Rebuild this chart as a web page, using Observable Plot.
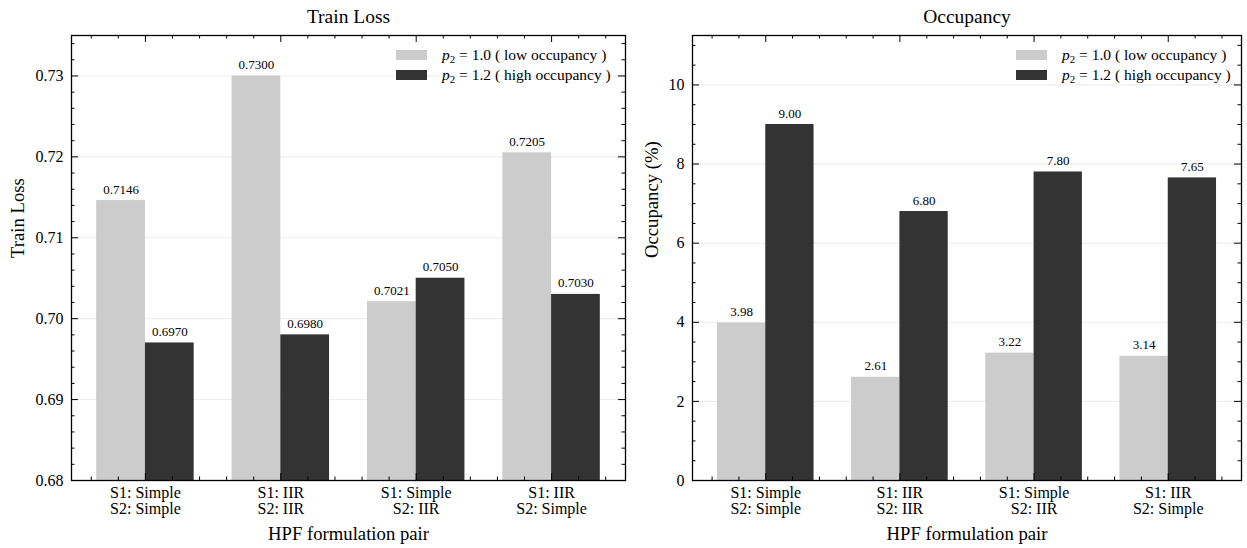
<!DOCTYPE html>
<html><head><meta charset="utf-8">
<script src="https://cdn.jsdelivr.net/npm/d3@7"></script>
<script src="https://cdn.jsdelivr.net/npm/@observablehq/plot@0.6"></script>
<style>
body{margin:0;background:#fff;}
#wrap{position:relative;width:1247px;height:548px;font-family:"Liberation Serif",serif;overflow:hidden;}
.panel{position:absolute;top:0;}
.legend{position:absolute;font-size:15.5px;color:#000;font-family:"Liberation Serif",serif;}
.legend .row{display:flex;align-items:center;height:20px;white-space:nowrap;}
.legend .sw{width:31px;height:10px;margin-right:15px;}
.legend sub{font-size:0.7em;vertical-align:-0.3em;line-height:0;}
</style></head><body><div id="wrap"></div>
<script>
// ---- data ----
const categories = ["S1: Simple\nS2: Simple", "S1: IIR\nS2: IIR", "S1: Simple\nS2: IIR", "S1: IIR\nS2: Simple"];
const seriesLabels = ["<i>p</i><sub>2</sub> = 1.0 ( low occupancy )", "<i>p</i><sub>2</sub> = 1.2 ( high occupancy )"];
const lossLow = [0.7146, 0.7300, 0.7021, 0.7205];
const lossHigh = [0.6970, 0.6980, 0.7050, 0.7030];
const occLow = [3.98, 2.61, 3.22, 3.14];
const occHigh = [9.00, 6.80, 7.80, 7.65];
const lossTicks = [0.68, 0.69, 0.70, 0.71, 0.72, 0.73];
const occTicks = [0, 2, 4, 6, 8, 10];
const xLabel = "HPF formulation pair";
const colors = ["#cccccc", "#333333"];

const wrap = document.getElementById("wrap");
const H_TOTAL = 548, MT = 35, MB = 68;
const BW = 0.36;
const xDomain = [-0.546, 3.546];
const xMinor = d3.range(-0.4, 3.5, 0.2).map(v => +v.toFixed(2)).filter(v => Math.abs(v - Math.round(v)) > 1e-6);
const xMajor = categories.map((c, i) => i);

function panel({low, high, yDomain, yMajor, yMinorStep, fmt, yFmt, title, ylabel, ylabelDx, width, ml, mr, left, legendLeft}) {
  const rows = [];
  categories.forEach((c, i) => {
    rows.push({i, s: 0, value: low[i], x1: i - BW, x2: i});
    rows.push({i, s: 1, value: high[i], x1: i, x2: i + BW});
  });
  const W = width - ml - mr;
  const H = H_TOTAL - MT - MB;
  const yMinor = d3.range(yDomain[0], yDomain[1] + 1e-9, yMinorStep).map(v => +v.toFixed(4))
    .filter(v => !yMajor.some(m => Math.abs(m - v) < 1e-6));
  const p = Plot.plot({
    width, height: H_TOTAL,
    marginLeft: ml, marginRight: mr, marginTop: MT, marginBottom: MB,
    style: {fontFamily: "Liberation Serif, serif", fontSize: "16px", background: "transparent", color: "#000", overflow: "visible"},
    x: {type: "linear", domain: xDomain},
    y: {domain: yDomain},
    marks: [
      Plot.gridY(yMajor, {stroke: "#000", strokeOpacity: 0.08, strokeWidth: 1}),
      Plot.rect(rows, {x1: "x1", x2: "x2", y1: yDomain[0], y2: "value", fill: d => colors[d.s]}),
      Plot.text(rows, {x: d => (d.x1 + d.x2) / 2, y: "value", text: d => fmt(d.value), dy: -7, lineAnchor: "bottom", fontSize: 13, fill: "#000"}),
      // inward ticks, all four sides
      Plot.tickX(xMinor, {x: d => d, insetTop: H - 3.5, stroke: "#000"}),
      Plot.tickX(xMinor, {x: d => d, insetBottom: H - 3.5, stroke: "#000"}),
      Plot.tickX(xMajor, {x: d => d, insetTop: H - 7, stroke: "#000"}),
      Plot.tickX(xMajor, {x: d => d, insetBottom: H - 7, stroke: "#000"}),
      Plot.tickY(yMinor, {y: d => d, insetRight: W - 3.5, stroke: "#000"}),
      Plot.tickY(yMinor, {y: d => d, insetLeft: W - 3.5, stroke: "#000"}),
      Plot.tickY(yMajor, {y: d => d, insetRight: W - 7, stroke: "#000"}),
      Plot.tickY(yMajor, {y: d => d, insetLeft: W - 7, stroke: "#000"}),
      Plot.axisX(xMajor, {tickSize: 0, tickPadding: 6, tickFormat: i => categories[i], label: null, fontSize: 16, fill: "#000"}),
      Plot.axisY(yMajor, {tickSize: 0, tickPadding: 8, tickFormat: yFmt, label: null, fontSize: 16, fill: "#000"}),
      Plot.frame({stroke: "#000", strokeWidth: 1.3}),
      Plot.text([title], {text: d => d, frameAnchor: "top", dy: -19, lineAnchor: "middle", fontSize: 19.5, fill: "#000"}),
      Plot.text([xLabel], {text: d => d, frameAnchor: "bottom", dy: 54, lineAnchor: "middle", fontSize: 18.7, fill: "#000"}),
      Plot.text([ylabel], {text: d => d, frameAnchor: "left", dx: ylabelDx, rotate: -90, lineAnchor: "middle", fontSize: 18.7, fill: "#000"})
    ]
  });
  const holder = document.createElement("div");
  holder.className = "panel";
  holder.style.left = left + "px";
  holder.appendChild(p);
  wrap.appendChild(holder);

  const lg = document.createElement("div");
  lg.className = "legend";
  lg.style.left = legendLeft + "px";
  lg.style.top = "45px";
  lg.innerHTML = seriesLabels.map((t, k) =>
    `<div class="row"><span class="sw" style="background:${colors[k]}"></span><span>${t}</span></div>`).join("");
  wrap.appendChild(lg);
}

panel({
  low: lossLow, high: lossHigh, yDomain: [0.68, 0.735], yMajor: lossTicks, yMinorStep: 0.002,
  fmt: d3.format(".4f"), yFmt: d3.format(".2f"), title: "Train Loss", ylabel: "Train Loss", ylabelDx: -53,
  width: 640, ml: 71, mr: 15, left: 0, legendLeft: 396
});
panel({
  low: occLow, high: occHigh, yDomain: [0, 11.25], yMajor: occTicks, yMinorStep: 0.5,
  fmt: d3.format(".2f"), yFmt: d3.format("d"), title: "Occupancy", ylabel: "Occupancy (%)", ylabelDx: -40,
  width: 617, ml: 62, mr: 6, left: 630, legendLeft: 1016
});
</script></body></html>
